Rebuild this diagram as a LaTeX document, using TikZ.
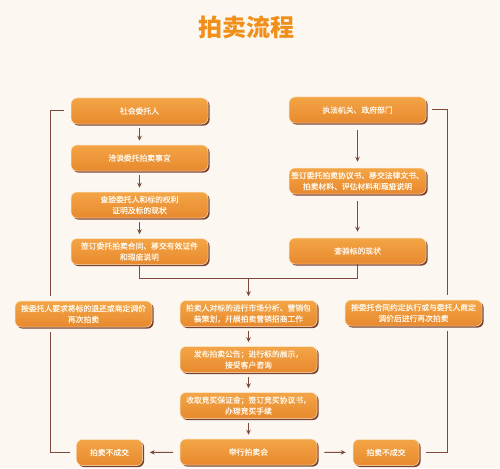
\documentclass[tikz,border=0pt]{standalone}
\usepackage{fontspec}
\newfontfamily\cjk{Noto Sans CJK SC}
\newfontfamily\cjkm[FakeBold=0.6]{Noto Sans CJK SC}
\usetikzlibrary{arrows.meta,shadows}
\definecolor{bgc}{HTML}{FCF7F1}
\definecolor{orangeT}{HTML}{F3A546}
\definecolor{orangeB}{HTML}{E8892E}
\definecolor{shadowc}{HTML}{7A4330}
\definecolor{edgec}{HTML}{FBE6C8}
\definecolor{linec}{HTML}{7D4A3C}
\definecolor{titlec}{HTML}{F0901A}
\definecolor{txtc}{HTML}{FFF6E8}
\tikzset{
  box/.style={rounded corners=6pt, top color=orangeT, bottom color=orangeB,
    draw=edgec, line width=0.5pt, minimum height=26pt, inner sep=1pt,
    text=txtc, align=center, font=\cjkm\fontsize{7.8}{11}\selectfont,
    drop shadow={shadow xshift=1.6pt, shadow yshift=-1.6pt, fill=shadowc, opacity=1}},
  wbox/.style={box, minimum width=137pt},
  sbox/.style={box, minimum width=66pt},
  conn/.style={draw=linec, line width=1pt},
  arr/.style={conn, -{Stealth[length=5pt,width=4.5pt]}},
}
\begin{document}
\begin{tikzpicture}[x=1pt,y=-1pt]
\fill[bgc] (0,0) rectangle (500,468);
\useasboundingbox (0,0) rectangle (500,468);
\node[text=titlec, font=\cjk\bfseries\fontsize{24}{28}\selectfont] (title) at (246,27) {拍卖流程};
% left column
\node[wbox] (L1) at (139.5,111) {社会委托人};
\node[wbox] (L2) at (139.5,158) {洽谈委托拍卖事宜};
\node[wbox] (L3) at (139.5,205) {查验委托人和标的权利\\证明及标的现状};
\node[wbox] (L4) at (139.5,251.5) {签订委托拍卖合同、移交有效证件\\和瑕疵说明};
% right column
\node[wbox] (R1) at (357.5,110) {执法机关、政府部门};
\node[wbox] (R2) at (357.5,181) {签订委托拍卖协议书、移交法律文书、\\拍卖材料、评估材料和瑕疵说明};
\node[wbox] (R3) at (357.5,251) {查验标的现状};
% middle column
\node[wbox] (M1) at (248.5,313.5) {拍卖人对标的进行市场分析、营销包\\装策划，开展拍卖营销招商工作};
\node[wbox] (M2) at (248.5,359.5) {发布拍卖公告；进行标的展示，\\接受客户咨询};
\node[wbox] (M3) at (248.5,405.5) {收取竞买保证金；签订竞买协议书，\\办理竞买手续};
\node[wbox] (M4) at (248.5,452) {举行拍卖会};
% side boxes
\node[wbox] (LS) at (83.5,314) {按委托人要求将标的退还或商定调价\\再次拍卖};
\node[wbox] (RS) at (413.5,313) {按委托合同约定执行或与委托人商定\\调价后进行再次拍卖};
\node[sbox] (BL) at (109.5,452.5) {拍卖不成交};
\node[sbox] (BR) at (386,452.5) {拍卖不成交};
\coordinate (lx) at (50,0);
\coordinate (rx) at (447,0);
\coordinate (mg) at (0,278);
% arrows left column
\draw[arr, shorten <=4pt, shorten >=4pt] (L1) -- (L2);
\draw[arr, shorten <=4pt, shorten >=4pt] (L2) -- (L3);
\draw[arr, shorten <=4pt, shorten >=4pt] (L3) -- (L4);
% arrows right column
\draw[arr, shorten <=7pt, shorten >=6pt] (R1) -- (R2);
\draw[arr, shorten <=7pt, shorten >=6pt] (R2) -- (R3);
% merge
\draw[conn] (L4.south) -- (L4.south |- mg) -- (R3.south |- mg) -- (R3.south);
\draw[arr, shorten >=4pt] (M1.north |- mg) -- (M1.north);
% middle column
\draw[arr, shorten <=4pt, shorten >=4pt] (M1) -- (M2);
\draw[arr, shorten <=4pt, shorten >=4pt] (M2) -- (M3);
\draw[arr, shorten <=4pt, shorten >=4pt] (M3) -- (M4);
% failure branches
\draw[arr, shorten <=7pt, shorten >=7pt] (M4) -- (BL);
\draw[arr, shorten <=7pt, shorten >=7pt] (M4) -- (BR);
% left loop
\draw[conn, shorten <=6pt, shorten >=5pt] (BL.west) -| (lx |- LS.south);
\draw[conn, shorten <=5pt, shorten >=7pt] (lx |- LS.north) |- (L1.west);
% right loop
\draw[conn, shorten <=6pt, shorten >=5pt] (R1.east) -| (rx |- RS.north);
\draw[conn, shorten <=5pt, shorten >=7pt] (rx |- RS.south) |- (BR.east);
\end{tikzpicture}
\end{document}
